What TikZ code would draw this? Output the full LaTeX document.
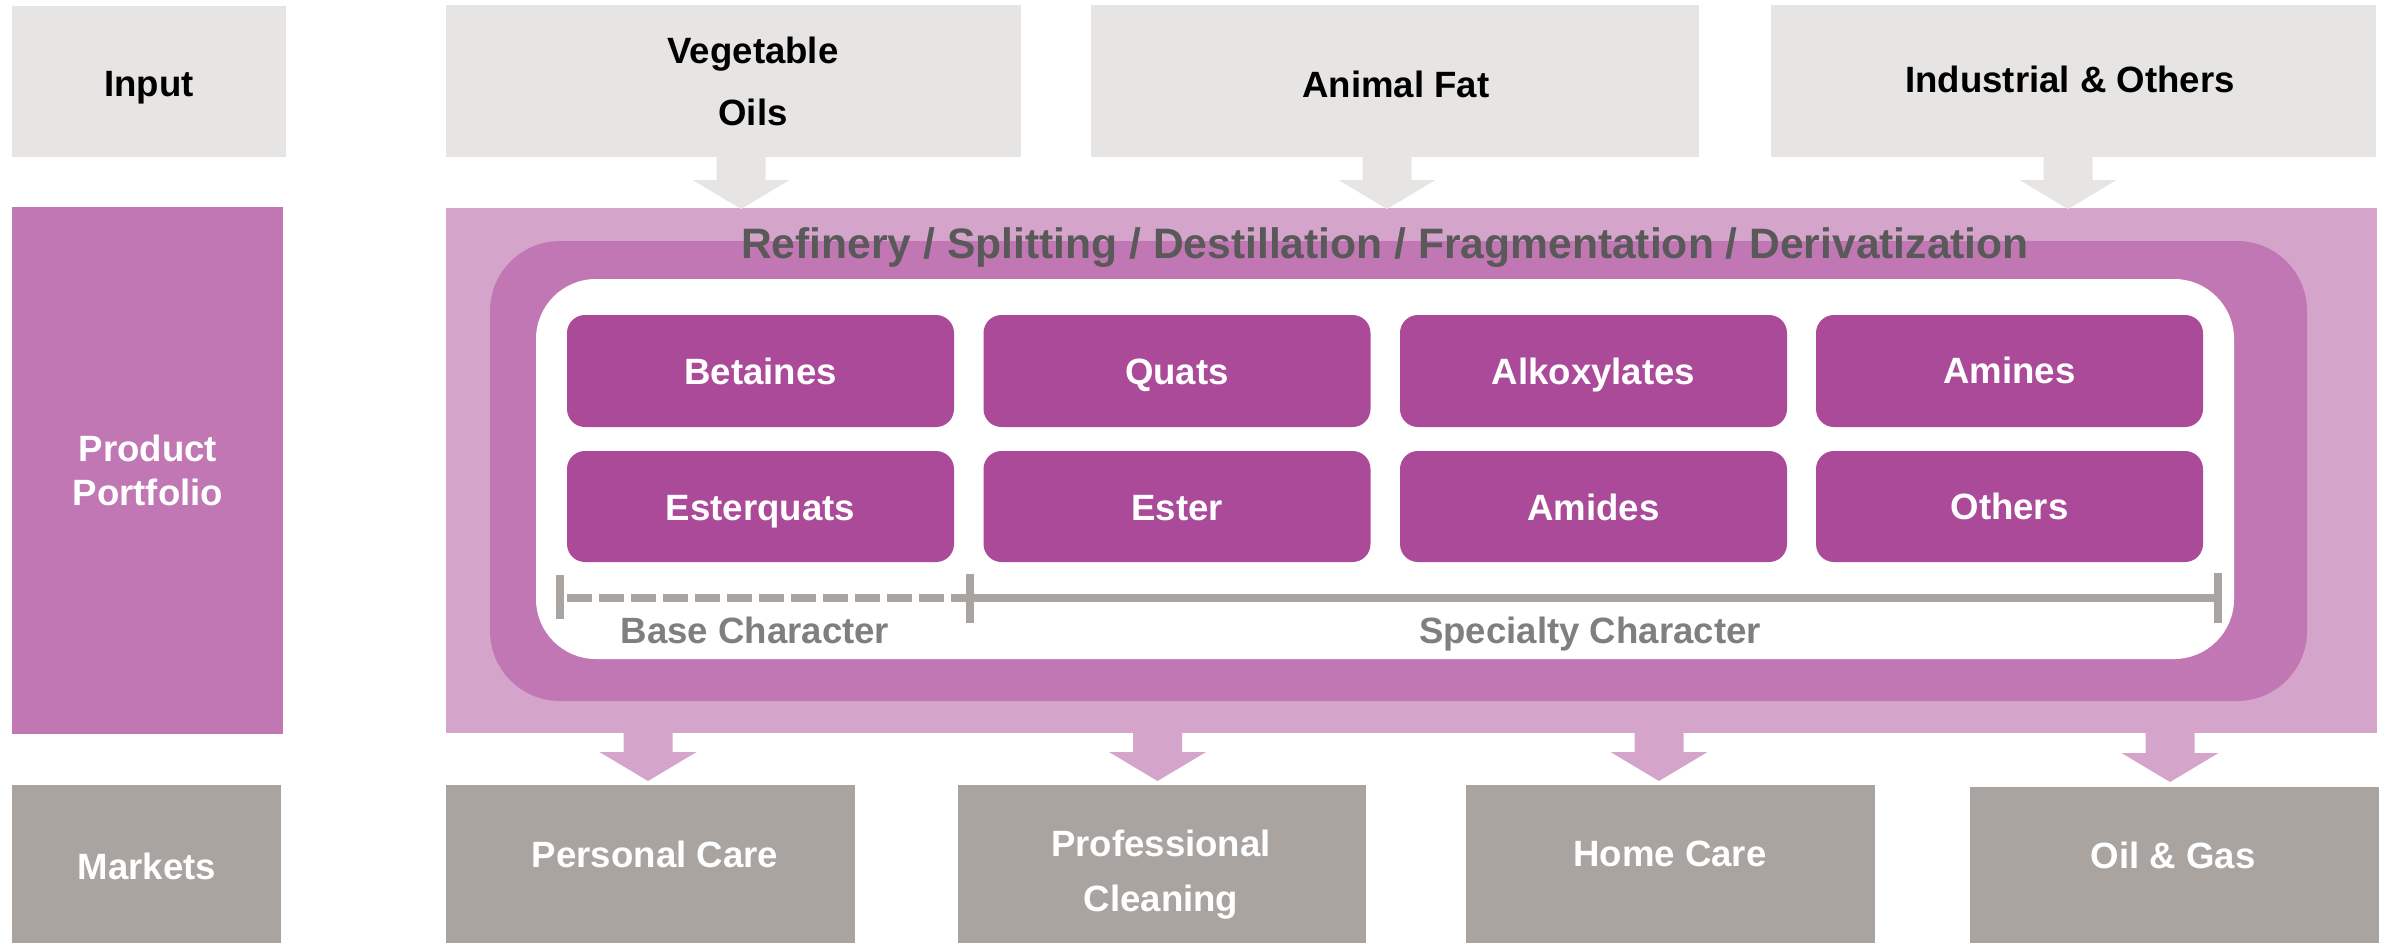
\documentclass[tikz,border=0pt]{standalone}
\usepackage{fontspec}
\setmainfont{Liberation Sans}
\usetikzlibrary{calc,fit}

\definecolor{inputgray}{HTML}{E6E5E3}
\definecolor{pinklight}{HTML}{D5A4CB}
\definecolor{pinkmid}{HTML}{C277B5}
\definecolor{prodpurple}{HTML}{AC4A9A}
\definecolor{marketgray}{HTML}{A9A49F}
\definecolor{titlegray}{HTML}{595959}
\definecolor{chargray}{HTML}{7F7F7F}

% downward block arrow: style, start point (shaft top), tip point
\newcommand\blockdown[3]{%
  \fill[#1] let \p1=#2, \p2=#3 in
    (\x2-24.5pt,\y1) -- (\x2+24.5pt,\y1) -- (\x2+24.5pt,\y2+29pt)
    -- (\x2+48.5pt,\y2+29pt) -- (\x2,\y2) -- (\x2-48.5pt,\y2+29pt)
    -- (\x2-24.5pt,\y2+29pt) -- cycle;}

\begin{document}
\begin{tikzpicture}[x=1pt,y=-1pt,
  area/.style={rectangle, inner sep=0pt, outer sep=0pt, draw=none},
  inbox/.style={area, fill=inputgray},
  mktbox/.style={area, fill=marketgray},
  prodbox/.style={area, fill=prodpurple, rounded corners=18pt},
  lbl/.style={font=\bfseries\fontsize{36.6}{44}\selectfont, inner sep=0pt, anchor=base},
  dark/.style={lbl, text=black},
  light/.style={lbl, text=white},
  charlbl/.style={lbl, text=chargray},
  bracketline/.style={draw=marketgray, line width=8pt},
  inarrow/.style={fill=inputgray},
  outarrow/.style={fill=pinklight}]
\useasboundingbox (0,0) rectangle (2392,943);

% ---- input row ----
\node[inbox, fit={(12,6)(286,157)}] (input) {};
\node[inbox, fit={(446,5)(1021,157)}] (veg) {};
\node[inbox, fit={(1091,5)(1699,157)}] (fat) {};
\node[inbox, fit={(1771,5)(2376,157)}] (ind) {};
\node[dark] (tinput) at (149,96.7) {Input};
\node[dark] (tveg1) at (753,63) {Vegetable};
\node[dark] (tveg2) at (753,125) {Oils};
\node[dark] (tfat) at (1396,97.3) {Animal Fat};
\node[dark] (tind) at (2070,92) {Industrial \& Others};

% ---- product portfolio ----
\node[area, fill=pinkmid, fit={(12,207)(283,734)}] (pp) {};
\node[light] (tpp1) at (148,461.7) {Product};
\node[light] (tpp2) at (148,505) {Portfolio};

\node[area, fill=pinklight, fit={(446,208)(2377,733)}] (big) {};
\node[area, fill=pinkmid, rounded corners=70pt, fit={(490,241)(2307,701)}] (mid) {};
\node[area, fill=white, rounded corners=60pt, fit={(536,279)(2234,659)}] (inner) {};
\node[lbl, text=titlegray, font=\bfseries\fontsize{42.6}{50}\selectfont] (title) at (1385,258)
  {Refinery / Splitting / Destillation / Fragmentation / Derivatization};

% product grid
\node[prodbox, fit={(567,315)(954,427)}] (betaines) {};
\node[prodbox, fit={(983.5,315)(1370.5,427)}] (quats) {};
\node[prodbox, fit={(1400,315)(1787,427)}] (alkox) {};
\node[prodbox, fit={(1816,315)(2203,427)}] (amines) {};
\node[prodbox, fit={(567,451)(954,562)}] (esterquats) {};
\node[prodbox, fit={(983.5,451)(1370.5,562)}] (ester) {};
\node[prodbox, fit={(1400,451)(1787,562)}] (amides) {};
\node[prodbox, fit={(1816,451)(2203,562)}] (others) {};
\node[light] at (betaines.center |- 0,384) {Betaines};
\node[light] at (quats.center |- 0,384) {Quats};
\node[light] at (alkox.center |- 0,384) {Alkoxylates};
\node[light] at (amines.center |- 0,383) {Amines};
\node[light] at (esterquats.center |- 0,520) {Esterquats};
\node[light] at (ester.center |- 0,520) {Ester};
\node[light] at (amides.center |- 0,520) {Amides};
\node[light] at (others.center |- 0,519) {Others};

% base / specialty bracket
\coordinate (bl) at (560,598);
\coordinate (bm) at (970,598);
\coordinate (br) at (2218,598);
\draw[bracketline] ($(bl)+(0,-23)$) -- ($(bl)+(0,21)$);
\draw[bracketline] ($(bm)+(0,-24)$) -- ($(bm)+(0,25)$);
\draw[bracketline] ($(br)+(0,-25)$) -- ($(br)+(0,25)$);
\draw[bracketline, dash pattern=on 24.5pt off 7.5pt] ($(bl)+(7,0)$) -- (bm);
\draw[bracketline] (bm) -- (br);
\node[charlbl] (tbase) at (755,643) {Base Character};
\node[charlbl] (tspec) at (1590,643) {Specialty Character};

% ---- markets ----
\node[mktbox, fit={(12,785)(281,943)}] (markets) {};
\node[mktbox, fit={(446,785)(855,943)}] (pc) {};
\node[mktbox, fit={(958,785)(1366,943)}] (prof) {};
\node[mktbox, fit={(1466,785)(1875,943)}] (home) {};
\node[mktbox, fit={(1970,787)(2379,943)}] (oil) {};
\node[light] (tmarkets) at (147,879) {Markets};
\node[light] (tpc) at (655,867) {Personal Care};
\node[light] (tprof1) at (1161,856) {Professional};
\node[light] (tprof2) at (1161,911.7) {Cleaning};
\node[light] (thome) at (1670,866) {Home Care};
\node[light] (toil) at (2173,868) {Oil \& Gas};

% ---- flow arrows ----
\coordinate (a1) at (741,209);
\coordinate (a2) at (1387,209);
\coordinate (a3) at (2068,209);
\blockdown{inarrow}{(a1 |- veg.south)}{(a1)}
\blockdown{inarrow}{(a2 |- fat.south)}{(a2)}
\blockdown{inarrow}{(a3 |- ind.south)}{(a3)}

\coordinate (b1) at (648,781);
\coordinate (b2) at (1157.5,781);
\coordinate (b3) at (1659,781);
\coordinate (b4) at (2170,782);
\blockdown{outarrow}{(b1 |- big.south)}{(b1)}
\blockdown{outarrow}{(b2 |- big.south)}{(b2)}
\blockdown{outarrow}{(b3 |- big.south)}{(b3)}
\blockdown{outarrow}{(b4 |- big.south)}{(b4)}
\end{tikzpicture}
\end{document}
